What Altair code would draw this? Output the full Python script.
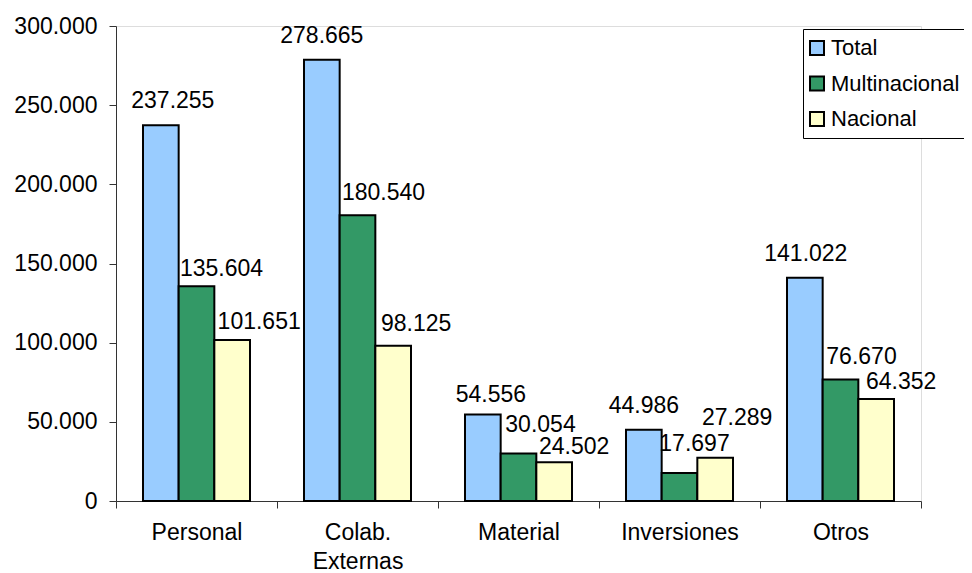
import altair as alt
import pandas as pd

categories = ["Personal", "Colab. Externas", "Material", "Inversiones", "Otros"]
series = ["Total", "Multinacional", "Nacional"]
total = [237255, 278665, 54556, 44986, 141022]
multinacional = [135604, 180540, 30054, 17697, 76670]
nacional = [101651, 98125, 24502, 27289, 64352]
y_ticks = [0, 50000, 100000, 150000, 200000, 250000, 300000]
colors = ["#99CCFF", "#339966", "#FFFFCC"]

rows = []
for s, vals in zip(series, [total, multinacional, nacional]):
    for c, v in zip(categories, vals):
        rows.append({"categoria": c, "serie": s, "valor": v})
df = pd.DataFrame(rows)

FONT = "Liberation Sans"
FS = 23
AXIS_COLOR = "#333333"

# label nudges (layout only): (dx from bar centre, dy of baseline from bar top)
label_nudge = {
    "Total": [(12, -17), (0, -17), (8, -13), (0, -17), (1, -17)],
    "Multinacional": [(25, -10), (26, -15), (22, -21), (15, -22), (21, -16)],
    "Nacional": [(27, -11), (23, -15), (20, -8), (22, -33), (25, -10)],
}

x_enc = alt.X(
    "categoria:N",
    sort=categories,
    scale=alt.Scale(paddingInner=0, paddingOuter=0),
    axis=alt.Axis(
        title=None, labelAngle=0, tickBand="extent", tickSize=7, labelPadding=13,
        labelExpr="split(datum.label, ' ')", labelLineHeight=29,
        labelFontSize=FS, labelFont=FONT, labelColor="black",
        domainColor=AXIS_COLOR, tickColor=AXIS_COLOR, labelBaseline="top",
    ),
)
xo_enc = alt.XOffset("serie:N", sort=series,
                     scale=alt.Scale(paddingInner=0, paddingOuter=0.757))
y_enc = alt.Y(
    "valor:Q",
    scale=alt.Scale(domain=[0, 300000], nice=False),
    axis=alt.Axis(
        title=None, values=y_ticks, grid=False, tickSize=7, labelPadding=12,
        labelExpr="datum.value == 0 ? '0' : format(datum.value / 1000, '.3f')",
        labelFontSize=FS, labelFont=FONT, labelColor="black",
        domainColor=AXIS_COLOR, tickColor=AXIS_COLOR,
    ),
)
color_enc = alt.Color(
    "serie:N",
    sort=series,
    scale=alt.Scale(domain=series, range=colors),
    legend=alt.Legend(
        title=None, orient="none", legendX=687, legendY=3,
        strokeColor="black", fillColor="white", padding=8, rowPadding=13.5,
        symbolType="square", symbolSize=196, symbolStrokeColor="black",
        symbolStrokeWidth=2, symbolOffset=-5, labelFontSize=22, labelFont=FONT,
        labelOffset=3, labelColor="black",
    ),
)

bars = alt.Chart(df).mark_bar(stroke="black", strokeWidth=2).encode(
    x=x_enc, xOffset=xo_enc, y=y_enc, color=color_enc
)

text_layers = []
for s in series:
    for c, (dx, dy) in zip(categories, label_nudge[s]):
        t = (
            alt.Chart(df)
            .transform_filter((alt.datum.serie == s) & (alt.datum.categoria == c))
            .transform_calculate(lbl="format(datum.valor / 1000, '.3f')")
            .mark_text(dx=dx, dy=dy, baseline="alphabetic", align="center",
                       fontSize=FS, font=FONT, color="black")
            .encode(x=x_enc, xOffset=xo_enc, y=y_enc, text="lbl:N")
        )
        text_layers.append(t)

chart = alt.layer(bars, *text_layers).properties(
    width=805,
    height=475,
    autosize=alt.AutoSizeParams(type="none"),
    padding={"left": 108, "top": 18, "right": 43, "bottom": 72},
).configure_view(stroke=None).configure(background="white")

chart.save("out.html", embed_options={"renderer": "svg", "actions": False})
